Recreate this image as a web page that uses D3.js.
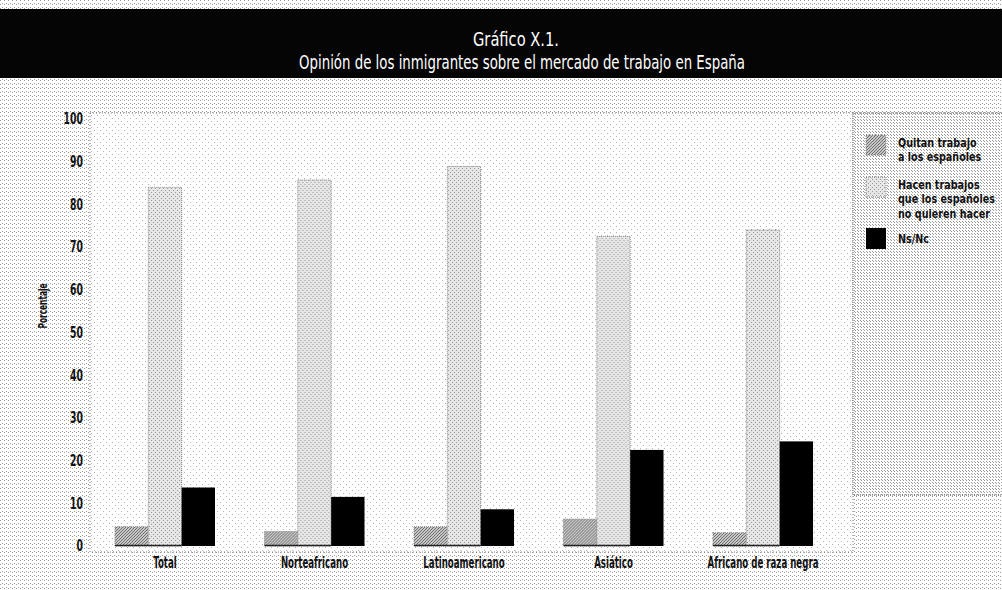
<!DOCTYPE html>
<html>
<head>
<meta charset="utf-8">
<script src="https://cdn.jsdelivr.net/npm/d3@7"></script>
<style>
  html, body { margin: 0; padding: 0; background: #ffffff; }
  svg { display: block; }
  text { font-family: "DejaVu Sans", sans-serif; }
</style>
</head>
<body>
<div id="chart"></div>
<script>
// data
const categories = ["Total", "Norteafricano", "Latinoamericano", "Asiático", "Africano de raza negra"];
const seriesNames = ["Quitan trabajo a los españoles", "Hacen trabajos que los españoles no quieren hacer", "Ns/Nc"];
const quitan = [4.5, 3.4, 4.5, 6.3, 3.1];
const hacen = [84, 85.7, 88.9, 72.5, 74];
const nsnc = [13.7, 11.5, 8.6, 22.5, 24.5];
const yTicks = [0, 10, 20, 30, 40, 50, 60, 70, 80, 90, 100];
const legendLines = [["Quitan trabajo", "a los españoles"], ["Hacen trabajos", "que los españoles", "no quieren hacer"], ["Ns/Nc"]];

const W = 1002, H = 590;
const svg = d3.select("#chart").append("svg").attr("width", W).attr("height", H);

// halftone-ish dot patterns
const defs = svg.append("defs");
function dots(id, bg, fg, pts, size) {
    const p = defs.append("pattern").attr("id", id).attr("patternUnits", "userSpaceOnUse")
        .attr("width", size).attr("height", size);
    p.append("rect").attr("width", size).attr("height", size).attr("fill", bg);
    pts.forEach(d => p.append("rect").attr("x", d[0]).attr("y", d[1]).attr("width", 1).attr("height", 1).attr("fill", fg));
}
dots("bgDots", "#ffffff", "#9c9c9c", [[0, 0], [2, 3]], 4);
dots("plotDots", "#ffffff", "#b4b4b4", [[1, 1], [4, 4]], 6);
dots("legDots", "#ffffff", "#9a9a9a", [[0, 0], [2, 2]], 3);
dots("quitanDots", "#c6c6c6", "#707070", [[0, 0], [2, 1], [1, 2]], 3);
dots("hacenDots", "#e6e6e6", "#9a9a9a", [[0, 0], [2, 2]], 4);

svg.append("rect").attr("width", W).attr("height", H).attr("fill", "url(#bgDots)");

// title band
svg.append("rect").attr("x", 0).attr("y", 9).attr("width", W).attr("height", 69).attr("fill", "#050505");
svg.append("text")
    .attr("x", 516).attr("y", 46)
    .attr("text-anchor", "middle")
    .attr("textLength", 86).attr("lengthAdjust", "spacingAndGlyphs")
    .style("font-size", "19px").style("fill", "#ffffff")
    .text("Gráfico X.1.");
svg.append("text")
    .attr("x", 522).attr("y", 69)
    .attr("text-anchor", "middle")
    .attr("textLength", 446).attr("lengthAdjust", "spacingAndGlyphs")
    .style("font-size", "19px").style("fill", "#ffffff")
    .text("Opinión de los inmigrantes sobre el mercado de trabajo en España");

// plot area + legend box
const plot = { left: 90, right: 853, top: 113, bottom: 552 };
svg.append("rect")
    .attr("x", plot.left).attr("y", plot.top)
    .attr("width", plot.right - plot.left).attr("height", plot.bottom - plot.top)
    .attr("fill", "url(#plotDots)")
    .attr("stroke", "#777").attr("stroke-width", 1).attr("stroke-dasharray", "1,2");
svg.append("rect")
    .attr("x", plot.right).attr("y", plot.top)
    .attr("width", W - plot.right + 2).attr("height", 495 - plot.top)
    .attr("fill", "url(#legDots)")
    .attr("stroke", "#666").attr("stroke-width", 1).attr("stroke-dasharray", "1,1");

// scales
const y = d3.scaleLinear().domain([0, 100]).range([546, 119]);
const x0 = d3.scaleBand().domain(categories).range([90, 838]).paddingInner(0.331).paddingOuter(0.167);
const x1 = d3.scaleBand().domain(seriesNames).range([0, x0.bandwidth()]);

const rows = categories.map((c, i) => ({ cat: c, vals: [quitan[i], hacen[i], nsnc[i]] }));
const fills = ["url(#quitanDots)", "url(#hacenDots)", "#000000"];

// y axis labels (narrow face: squeeze horizontally)
const yAxis = svg.append("g").attr("transform", `translate(83,0)`)
    .call(d3.axisLeft(y).tickValues(yTicks).tickSize(0).tickPadding(0));
yAxis.select(".domain").remove();
yAxis.selectAll("text")
    .attr("x", 0)
    .attr("transform", "scale(0.62,1)")
    .style("font-family", "DejaVu Sans").style("font-size", "15px").style("font-weight", "bold").style("fill", "#111");

svg.append("text")
    .attr("transform", "translate(47,306) rotate(-90) scale(0.62,1)")
    .attr("text-anchor", "middle")
    .style("font-size", "12px").style("font-weight", "bold").style("fill", "#111")
    .text("Porcentaje");

// bars
const groups = svg.append("g").selectAll("g")
    .data(rows).enter().append("g")
    .attr("transform", d => `translate(${x0(d.cat)},0)`);

groups.selectAll("rect")
    .data(d => d.vals.map((v, j) => ({ key: seriesNames[j], v: v, j: j })))
    .enter().append("rect")
    .attr("x", d => x1(d.key))
    .attr("y", d => y(d.v))
    .attr("width", x1.bandwidth())
    .attr("height", d => y(0) - y(d.v))
    .attr("fill", d => fills[d.j])
    .attr("stroke", d => d.j === 2 ? "none" : "#888")
    .attr("stroke-width", 1)
    .attr("stroke-dasharray", d => d.j === 2 ? null : "1,1");

// dark line at the foot of the grey bars
groups.append("line")
    .attr("x1", x1(seriesNames[0])).attr("x2", x1(seriesNames[1]) + x1.bandwidth())
    .attr("y1", y(0) - 0.5).attr("y2", y(0) - 0.5)
    .attr("stroke", "#222").attr("stroke-width", 1.5);

// category labels
const xAxis = svg.append("g").attr("transform", `translate(0,${y(0) + 22})`)
    .call(d3.axisBottom(x0).tickSize(0).tickPadding(0));
xAxis.select(".domain").remove();
xAxis.selectAll("text")
    .attr("y", 0).attr("dy", 0)
    .attr("transform", "scale(0.54,1)")
    .style("font-family", "DejaVu Sans").style("font-size", "16px").style("font-weight", "bold").style("fill", "#111");

// legend
const legY = [135, 177, 228];
const leg = svg.append("g").selectAll("g")
    .data(seriesNames).enter().append("g")
    .attr("transform", (d, i) => `translate(866,${legY[i]})`);
leg.append("rect")
    .attr("width", 20).attr("height", (d, i) => i === 2 ? 21 : 20)
    .attr("fill", (d, i) => fills[i])
    .attr("stroke", (d, i) => i === 2 ? "none" : "#888")
    .attr("stroke-dasharray", "1,1");
leg.append("text")
    .attr("transform", (d, i) => `translate(32,${i === 2 ? 15 : 12}) scale(0.8,1)`)
    .style("font-size", "12px").style("font-weight", "bold").style("fill", "#111")
    .selectAll("tspan")
    .data((d, i) => legendLines[i])
    .enter().append("tspan")
    .attr("x", 0)
    .attr("dy", (d, k) => k === 0 ? 0 : 14.5)
    .text(d => d);
</script>
</body>
</html>
